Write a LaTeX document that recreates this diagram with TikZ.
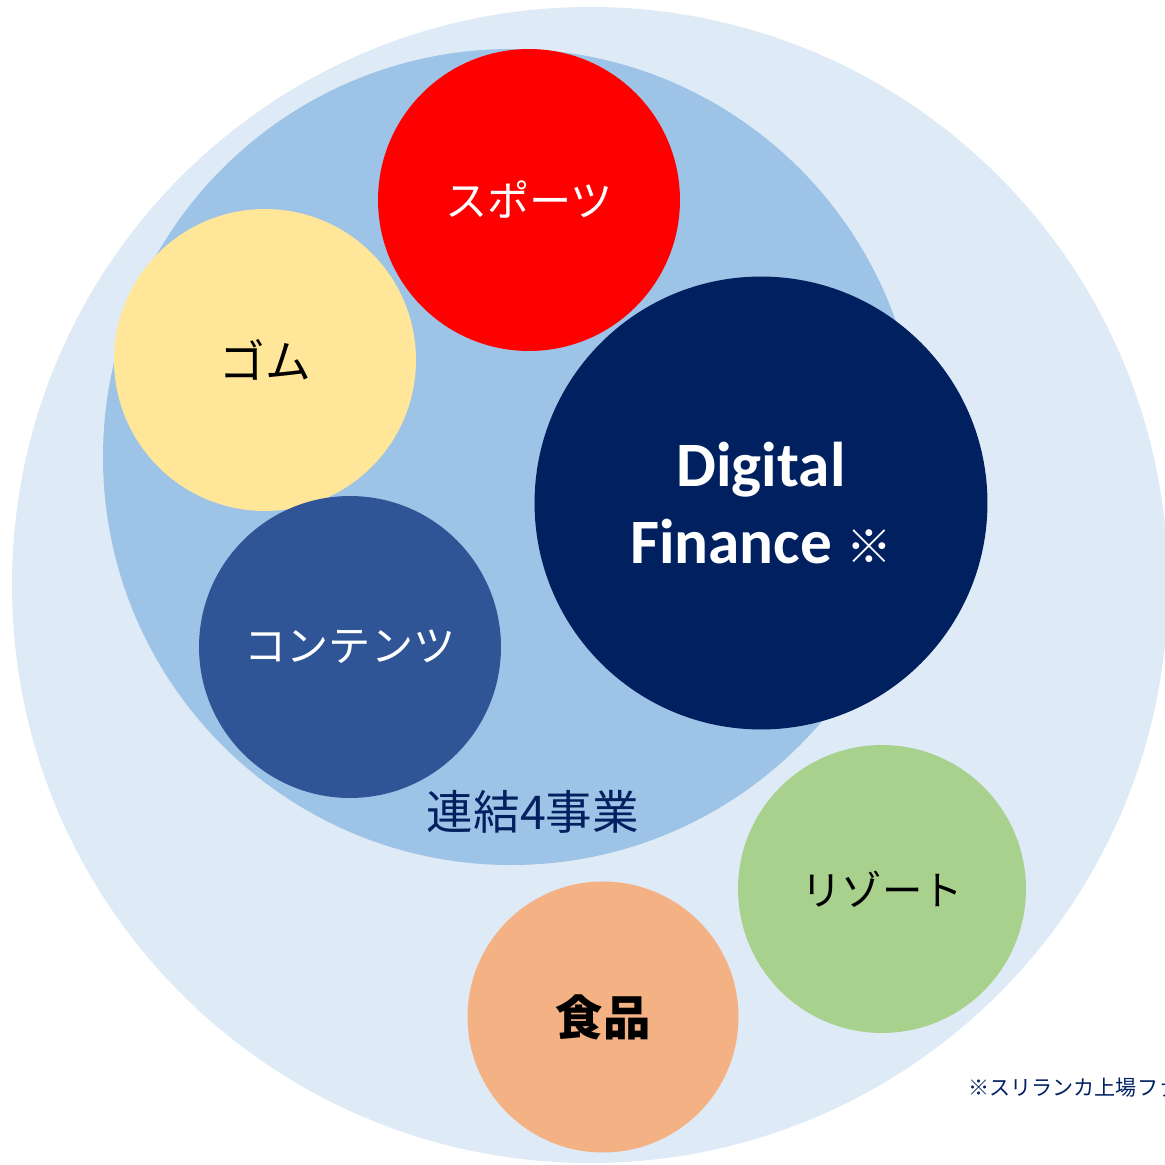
\documentclass[tikz,border=0pt]{standalone}
\usepackage{fontspec}
\setmainfont{Carlito}
\newfontfamily\jp{Noto Sans CJK JP}
\usepackage{tikz}
\usetikzlibrary{positioning}
\definecolor{outerblue}{HTML}{DEEAF6}
\definecolor{innerblue}{HTML}{9DC3E6}
\definecolor{sportred}{HTML}{FF0000}
\definecolor{rubberyellow}{HTML}{FFE699}
\definecolor{contentblue}{HTML}{2F5597}
\definecolor{finnavy}{HTML}{002060}
\definecolor{resortgreen}{HTML}{A9D18E}
\definecolor{foodorange}{HTML}{F4B183}
\tikzstyle{bubble} = [circle, inner sep=0pt, text centered, align=center, font=\jp\fontsize{24}{28}\selectfont]
\tikzstyle{caption} = [inner sep=0pt, text=finnavy]

\begin{document}
\begin{tikzpicture}[x=0.02cm,y=-0.02cm]
			\useasboundingbox (0,0) rectangle (1164,1165);
			\fill [outerblue] (590,585) circle (578);
			\fill [innerblue] (511,457) circle (408);
			%-----------------------------------------------
			\node (sports) [bubble, fill=sportred, text=white, minimum size=6.04cm] at (529,200) {スポーツ};
			\node (rubber) [bubble, fill=rubberyellow, minimum size=6.04cm, font=\jp\fontsize{26}{30}\selectfont] at (265,360) {ゴム};
			\node (contents) [bubble, fill=contentblue, text=white, minimum size=6.04cm] at (350,647) {コンテンツ};
			\node (finance) [bubble, fill=finnavy, text=white, minimum size=9.06cm, font=\bfseries\fontsize{36}{44}\selectfont] at (761,503) {Digital\\Finance {\jp\mdseries\fontsize{26}{30}\selectfont ※}};
			%-----------------------------------------------
			\node (resort) [bubble, fill=resortgreen, minimum size=5.76cm, font=\jp\fontsize{23}{28}\selectfont] at (882,889) {リゾート};
			\node (food) [bubble, fill=foodorange, minimum size=5.42cm, font=\jp\bfseries\fontsize{27}{30}\selectfont] at (603,1017) {食品};
			%-----------------------------------------------
			\node (group) [caption, font=\jp\fontsize{26.5}{30}\selectfont] at (533,812) {連結4事業};
			\node (note) [caption, anchor=west, font=\jp\fontsize{12}{14}\selectfont] at (968,1088) {※スリランカ上場ファ};
\end{tikzpicture}
\end{document}
